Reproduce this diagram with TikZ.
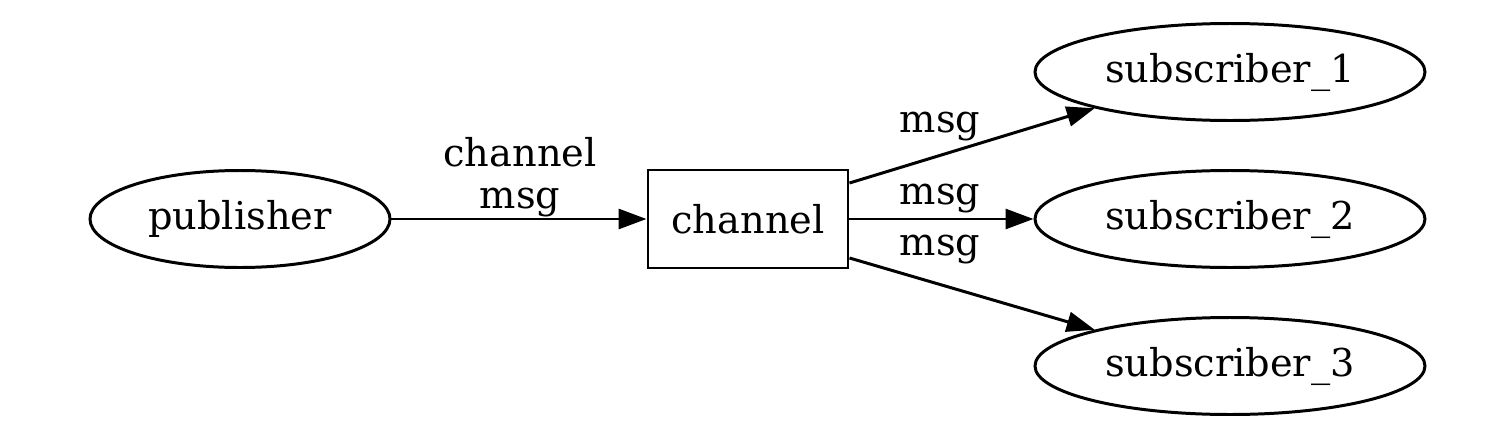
\documentclass[tikz,border=0pt]{standalone}
\usepackage{fontspec}
\setmainfont{DejaVu Serif}
\usetikzlibrary{shapes.geometric,arrows.meta,calc}
\begin{document}
\begin{tikzpicture}[
  every node/.style={font=\fontsize{10.9}{12}\selectfont},
  oval/.style={draw, ellipse, line width=0.85pt, inner sep=0pt, minimum width=#1, minimum height=0.97cm},
  boxnode/.style={draw, rectangle, line width=0.85pt, inner sep=0pt, minimum width=2.0cm, minimum height=0.98cm},
  edge/.style={line width=0.85pt, -{Triangle[length=0.28cm,width=0.2cm]}},
  lbl/.style={align=center, inner sep=0pt}
]
\useasboundingbox[fill=white] (0,0) rectangle (14.88,4.38);
\node[oval=3.0cm] (pub) at (2.40,2.19) {publisher};
\node[boxnode] (chan) at (7.48,2.19) {channel};
\node[oval=3.9cm] (s1) at (12.30,3.66) {subscriber\_1};
\node[oval=3.9cm] (s2) at (12.30,2.19) {subscriber\_2};
\node[oval=3.9cm] (s3) at (12.30,0.72) {subscriber\_3};
\draw[edge] (pub.east) -- (chan.west);
\draw[edge] ($(chan.east)+(0,0.36)$) -- (s1.195);
\draw[edge] (chan.east) -- (s2.west);
\draw[edge] ($(chan.east)+(0,-0.39)$) -- (s3.165);
\node[lbl] (l0) at (5.20,2.61) {channel\\msg};
\node[lbl] (l1) at (9.40,3.11) {msg};
\node[lbl] (l2) at (9.40,2.39) {msg};
\node[lbl] (l3) at (9.40,1.88) {msg};
\end{tikzpicture}
\end{document}
